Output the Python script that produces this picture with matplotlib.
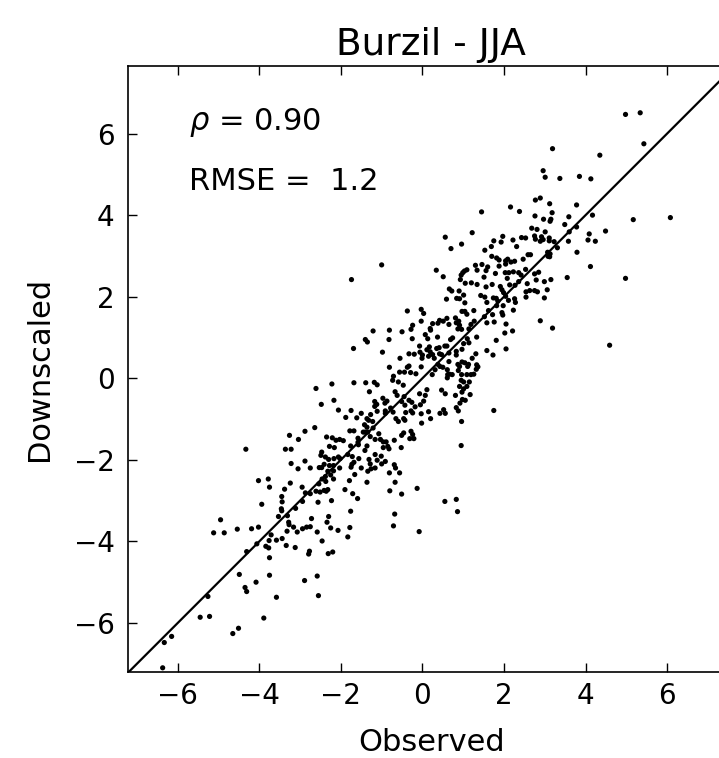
import matplotlib
matplotlib.use("Agg")
import matplotlib.pyplot as plt

# (observed, downscaled) pairs, grouped by region
lower_left = [
    (-6.37,-7.10),(-6.33,-6.48),(-6.15,-6.33),(-5.45,-5.86),(-5.22,-5.84),(-4.65,-6.26),(-4.51,-6.13),
    (-3.89,-5.88),(-5.26,-5.35),(-4.49,-4.81),(-4.35,-5.13),(-4.31,-5.23),(-4.08,-5.00),(-3.58,-5.37),
    (-3.75,-4.83),(-2.89,-4.96),(-2.58,-4.85),(-2.55,-5.33),(-4.31,-4.25),(-4.06,-4.06),(-3.84,-4.12),
    (-3.77,-4.16),(-3.75,-4.40),(-3.76,-3.98),(-3.71,-3.84),(-3.58,-3.97),(-3.44,-3.93),(-3.34,-4.10),
    (-3.12,-4.15),(-2.77,-4.24),(-2.79,-4.31),(-2.46,-3.99),(-5.12,-3.79),(-4.95,-3.47),(-4.86,-3.79),
    (-4.54,-3.70),(-4.19,-3.69),(-4.02,-3.65),(-4.02,-2.51),(-3.78,-2.47),(-3.75,-2.67),(-3.94,-3.09),
    (-3.24,-2.57),(-3.38,-2.72),(-3.45,-2.90),(-3.44,-3.03),(-3.46,-3.20),(-3.45,-3.25),(-3.53,-3.39),
    (-3.31,-3.37),(-3.28,-3.53),(-3.27,-3.59),(-3.16,-3.65),(-3.32,-3.75),(-3.07,-3.77),(-2.94,-3.69),
    (-2.84,-3.65),(-2.75,-3.64),(-2.72,-3.44),(-2.58,-3.77),(-3.11,-3.19),(-2.94,-3.02),(-2.87,-2.81),
    (-2.75,-2.83),(-2.95,-2.67),(-2.56,-3.04),(-2.61,-2.77),(-2.51,-2.79),(-2.41,-2.75),(-2.54,-2.59),
    (-2.46,-2.47),(-2.38,-2.41),
]
left_mid = [
    (-4.33,-1.74),(-3.36,-1.74),(-3.22,-1.74),(-3.26,-1.40),(-3.04,-1.50),(-2.88,-1.30),(-2.64,-1.21),
    (-2.61,-0.25),(-2.48,-0.64),(-2.47,-1.81),(-2.49,-1.89),(-2.41,-2.11),(-2.88,-2.03),(-3.22,-2.09),
    (-3.05,-2.22),(-2.75,-2.20),(-2.53,-2.19),(-2.47,-2.19),
]
bottom_mid = [
    (-2.31,-4.30),(-2.20,-4.26),(-2.25,-3.67),(-2.34,-3.53),(-2.30,-3.39),(-2.07,-3.73),(-1.83,-3.89),
    (-1.78,-3.66),(-1.76,-3.26),(-2.23,-3.00),(-2.36,-2.77),(-2.32,-2.73),(-2.37,-2.53),(-2.25,-2.37),
    (-2.18,-2.47),(-2.32,-2.28),(-2.18,-2.27),(-1.90,-2.73),(-1.79,-2.51),(-1.71,-2.83),(-1.59,-2.95),
    (-1.66,-2.36),(-1.36,-2.55),(-1.34,-2.28),(-0.81,-2.32),(-0.56,-2.32),(-0.67,-2.55),(-0.80,-2.76),
    (-0.51,-2.84),(-0.13,-2.70),(-0.68,-3.33),(-0.71,-3.62),(-0.08,-3.76),(0.55,-3.02),(0.83,-2.97),
    (0.86,-3.27),
]
core_upper_left = [
    (-1.74,2.42),(-0.37,1.65),(-0.03,1.69),(0.03,1.59),(-0.03,1.40),(-0.24,1.30),(-0.28,1.20),(-0.50,1.14),
    (-0.81,1.18),(-1.21,1.16),(-1.40,0.95),(-1.35,0.89),(-0.82,0.95),(-1.69,0.73),(-0.25,0.97),(-0.07,0.79),
    (-0.98,0.64),(-0.33,0.60),(-0.20,0.59),(-0.06,0.64),(0.00,0.57),(-0.55,0.49),(-0.01,0.49),(-0.33,0.30),
    (-0.81,0.27),(-0.37,0.27),(-0.03,0.28),
]
core_upper_right = [
    (0.34,2.65),(0.51,2.49),(0.95,2.53),(0.99,2.59),(1.03,2.63),(1.09,2.66),(0.93,2.42),(1.34,2.65),
    (1.56,2.64),(1.79,2.57),(2.03,2.59),(2.12,2.59),(2.23,2.61),(2.36,2.59),(2.42,2.53),(1.51,2.48),
    (2.08,2.45),(1.05,2.33),(1.20,2.34),(1.34,2.30),(1.56,2.24),(1.71,2.30),(1.91,2.25),(1.95,2.17),
    (1.99,2.10),(2.14,2.29),(2.27,2.28),(2.36,2.37),(0.66,2.19),(0.72,2.14),(0.59,1.94),(0.84,1.96),
    (0.91,1.95),(0.90,2.14),(1.01,2.04),(1.04,1.85),(1.43,2.03),(1.53,1.99),(1.74,1.97),(1.58,1.86),
    (1.81,1.96),(1.85,1.89),(2.04,2.01),(2.11,1.91),(2.26,1.95),(2.28,1.86),(1.98,1.78),(2.23,1.67),
    (1.95,1.61),(1.97,1.55),(1.82,1.78),(0.97,1.64),(1.04,1.64),(1.09,1.57),(1.26,1.66),(1.62,1.66),
    (1.52,1.51),(1.72,1.56),(1.76,1.38),(1.58,1.36),(0.51,1.40),(0.42,1.42),(0.38,1.35),(0.25,1.34),
    (0.19,1.22),(0.20,1.18),(0.60,1.47),(0.65,1.32),(0.81,1.48),(0.83,1.36),(0.89,1.40),(0.91,1.30),
    (0.87,1.21),(0.96,1.20),(1.19,1.32),(1.27,1.40),(2.05,1.33),(2.21,1.16),(2.02,1.11),(1.14,1.21),
    (1.10,0.97),(1.33,1.01),(1.81,0.93),(0.07,1.07),(0.13,0.97),(0.37,1.01),(0.74,0.99),(0.69,0.95),
    (1.01,0.85),(1.14,0.87),(0.97,0.71),(0.55,0.79),(0.60,0.79),(0.41,0.75),(0.35,0.73),(0.17,0.77),
    (0.11,0.70),(0.19,0.65),(0.25,0.58),(0.15,0.54),(0.29,0.49),(0.42,0.60),(0.47,0.58),(0.65,0.62),
    (0.83,0.66),(0.83,0.57),(1.31,0.60),(1.58,0.68),(1.73,0.57),(2.05,0.72),(0.65,0.41),(0.97,0.40),
    (1.04,0.38),(1.22,0.49),(0.87,0.34),(0.91,0.29),(1.11,0.29),(1.13,0.34),(1.33,0.33),(1.36,0.28),
    (0.38,0.34),(0.43,0.29),(0.50,0.27),
]
core_lower_left = [
    (-2.22,-0.14),(-1.68,-0.11),(-1.39,-0.11),(-1.18,-0.10),(-1.11,-0.16),(-2.17,-0.54),(-2.06,-0.78),
    (-1.30,-0.33),(-0.71,0.05),(-0.73,-0.05),(-0.56,0.15),(-0.44,0.15),(-0.29,0.14),(-0.16,0.11),
    (-0.59,-0.09),(-0.47,-0.17),(-0.67,-0.33),(-0.62,-0.42),(-0.45,-0.45),(-0.51,-0.57),(-0.43,-0.66),
    (-0.33,-0.54),(-0.26,-0.59),(-0.18,-0.70),(-0.05,-0.65),(0.03,-0.56),(-0.07,-0.38),(-0.97,-0.49),
    (-0.92,-0.61),(-1.17,-0.57),(-1.12,-0.64),(-0.87,-0.56),(-0.78,-0.73),(-0.72,-0.83),(-1.17,-0.69),
    (-1.11,-0.81),(-1.75,-0.79),(-1.88,-0.96),(-1.61,-0.97),(-1.50,-0.86),(-1.36,-0.99),(-1.27,-0.89),
    (-1.32,-1.03),(-1.22,-1.06),(-0.91,-0.80),(-0.91,-0.86),(-0.65,-0.99),(-0.59,-1.06),(-0.46,-0.99),
    (-0.41,-0.84),(-0.28,-0.80),(-0.24,-0.85),(-0.03,-0.87),(-0.02,-1.10),(-0.43,-1.03),(-1.42,-1.14),
    (-1.36,-1.20),(-1.78,-1.29),(-1.68,-1.29),(-1.45,-1.32),(-1.40,-1.32),(-1.34,-1.32),(-1.21,-1.22),
    (-1.07,-1.36),(-1.28,-1.43),(-1.16,-1.50),(-1.03,-1.50),(-0.96,-1.56),(-0.89,-1.56),(-0.96,-1.70),
    (-0.85,-1.67),(-0.82,-1.73),(-0.69,-1.52),(-0.51,-1.40),(-0.46,-1.34),(-0.28,-1.30),(-0.24,-1.38),
    (-0.21,-1.48),(-0.31,-1.48),(-0.52,-1.70),(-2.35,-1.44),(-2.21,-1.46),(-2.12,-1.52),(-2.03,-1.50),
    (-1.94,-1.53),(-2.28,-1.67),(-2.16,-1.70),(-1.58,-1.47),(-1.58,-1.57),(-1.57,-1.63),(-1.36,-1.66),
    (-1.41,-1.77),(-1.76,-1.66),(-2.38,-1.93),(-2.30,-1.99),(-2.17,-1.97),(-2.06,-1.93),(-2.02,-1.97),
    (-1.83,-1.87),(-1.72,-1.92),(-1.56,-1.97),(-1.68,-2.06),(-1.31,-1.99),(-1.28,-2.10),(-1.16,-1.87),
    (-1.01,-1.91),(-1.11,-2.01),(-1.00,-2.10),(-0.91,-2.04),(-0.69,-2.12),(-0.66,-2.20),(-2.28,-2.14),
    (-2.18,-2.14),(-2.03,-2.20),(-1.75,-2.18),(-1.73,-2.11),(-1.50,-2.20),(-1.26,-2.22),(-1.16,-2.20),
]
core_lower_right = [
    (0.31,0.21),(0.24,0.09),(0.61,0.21),(0.62,0.09),(0.66,0.10),(0.73,0.09),(0.61,0.01),(0.88,0.19),
    (0.96,0.09),(1.09,0.09),(1.19,0.09),(1.26,0.10),(1.32,0.22),(0.95,-0.05),(1.01,-0.09),(0.91,-0.20),
    (1.01,-0.26),(1.09,-0.20),(1.15,-0.09),(0.11,-0.28),(0.07,-0.42),(0.47,-0.29),(0.56,-0.38),
    (0.81,-0.42),(0.97,-0.34),(1.17,-0.40),(0.92,-0.61),(0.98,-0.52),(1.05,-0.54),(0.83,-0.72),
    (0.88,-0.80),(0.15,-0.82),(0.20,-0.99),(0.43,-0.86),(0.52,-0.77),(0.56,-0.86),(1.75,-0.79),
    (0.96,-1.06),(0.95,-1.65),
]
right_mid = [
    (2.53,2.67),(2.75,2.56),(2.85,2.60),(2.57,2.32),(2.79,2.41),(2.99,2.37),(3.15,2.42),(3.55,2.47),
    (4.98,2.45),(2.54,2.12),(2.63,2.15),(2.75,2.15),(2.82,2.12),(3.06,2.17),(2.54,1.99),(2.99,1.97),
    (2.89,1.41),(3.19,1.23),(4.59,0.81),
]
upper_right = [
    (4.98,6.47),(5.34,6.51),(5.43,5.75),(3.19,5.63),(4.35,5.47),(2.96,5.09),(3.01,4.93),(3.37,4.90),
    (3.85,4.95),(4.13,4.89),(2.77,4.37),(2.89,4.42),(3.12,4.28),(3.78,4.25),(3.18,4.06),(2.76,3.98),
    (2.97,3.90),(3.13,3.85),(3.15,3.90),(3.59,3.96),(4.17,4.00),(3.49,3.77),(3.78,3.71),(2.68,3.68),
    (2.81,3.65),(3.01,3.59),(3.60,3.59),(4.49,3.61),(5.17,3.89),(6.08,3.94),(2.43,3.45),(2.53,3.44),
    (2.75,3.49),(2.77,3.41),(2.92,3.47),(2.96,3.40),(2.89,3.36),(3.11,3.44),(3.11,3.37),(3.23,3.35),
    (3.31,3.20),(3.58,3.36),(4.09,3.54),(4.06,3.39),(4.24,3.36),(3.79,3.09),(3.07,3.09),(3.13,3.05),
    (3.08,2.99),(3.12,2.98),(2.59,3.03),(2.65,3.03),(2.47,2.92),(4.12,2.74),
]
upper_mid = [
    (-1.00,2.78),(0.56,3.46),(0.70,3.18),(0.96,3.29),(1.22,3.57),(1.45,4.08),(2.16,4.20),(2.38,4.09),
    (1.53,3.14),(1.69,3.23),(1.75,3.37),(1.93,3.34),(1.97,3.48),(2.22,3.39),(2.31,3.23),(1.70,2.99),
    (1.82,2.95),(1.88,2.90),(2.04,2.88),(2.09,2.92),(2.17,2.85),(2.26,2.87),(1.30,2.77),(1.46,2.79),
    (1.60,2.73),(1.88,2.75),(2.04,2.80),
]

title = "Burzil - JJA"
x_label = "Observed"
y_label = "Downscaled"
rho_text = r"$\rho$ = 0.90"
rmse_text = "RMSE =  1.2"
limits = (-7.21, 7.65)
ticks = [-6, -4, -2, 0, 2, 4, 6]

groups = [lower_left, left_mid, bottom_mid, core_upper_left, core_upper_right,
          core_lower_left, core_lower_right, right_mid, upper_right, upper_mid]
observed = [p[0] for g in groups for p in g]
downscaled = [p[1] for g in groups for p in g]

plt.rcParams['font.family'] = ['DejaVu Sans']
fig = plt.figure(figsize=(7.19, 7.58), dpi=100)
fig.patch.set_facecolor('white')
ax = fig.add_axes([128.4/719, 85.7/758, 606/719, 606/758])

ax.scatter(observed, downscaled, s=14, c='black', edgecolors='none', zorder=3)
ax.plot(limits, limits, color='black', lw=1.6, zorder=2)

ax.set_xlim(limits)
ax.set_ylim(limits)
ax.set_xticks(ticks)
ax.set_yticks(ticks)
ax.tick_params(direction='in', top=True, right=True, length=6.5, width=1,
               labelsize=20)
ax.tick_params(axis='x', pad=7)
ax.tick_params(axis='y', pad=10)
for s in ax.spines.values():
    s.set_linewidth(1.2)

ax.set_xlabel(x_label, fontsize=22, labelpad=13)
ax.set_ylabel(y_label, fontsize=22, labelpad=14)
ax.set_title(title, fontsize=27, pad=8)

ax.text(0.10, 0.895, rho_text, transform=ax.transAxes, fontsize=22, va='baseline')
ax.text(0.10, 0.796, rmse_text, transform=ax.transAxes, fontsize=22, va='baseline')

fig.savefig("out.png", dpi=100, facecolor='white')
